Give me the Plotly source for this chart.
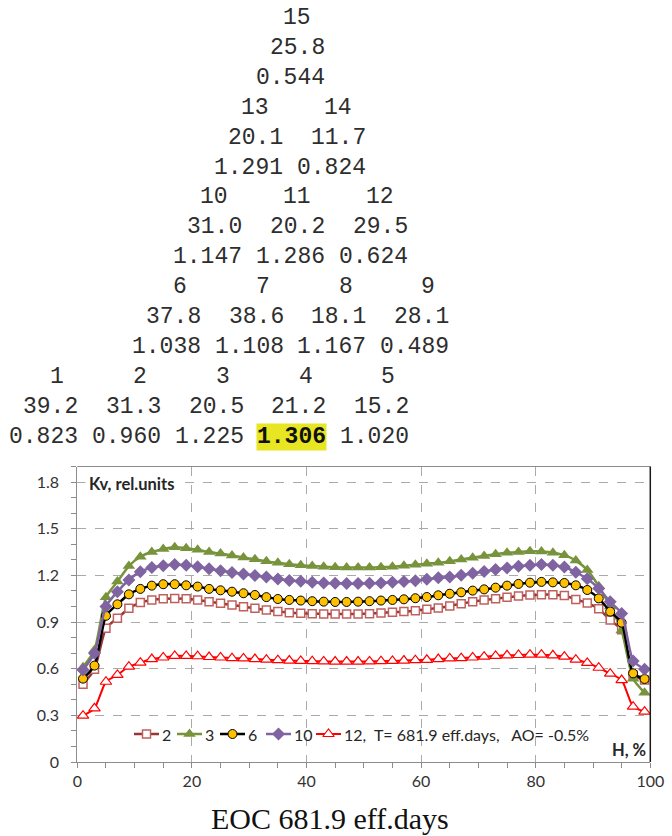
import plotly.graph_objects as go

# ---------------- data ----------------
h_pct = list(range(1, 100, 2))  # axial layer centres, %

kv_2 = [0.500, 0.596, 0.860, 0.924, 0.988, 1.025, 1.042, 1.050, 1.052, 1.050,
        1.042, 1.031, 1.020, 1.009, 0.999, 0.988, 0.977, 0.967, 0.960, 0.956,
        0.954, 0.952, 0.952, 0.952, 0.952, 0.954, 0.958, 0.963, 0.967, 0.973,
        0.982, 0.990, 1.003, 1.018, 1.031, 1.042, 1.050, 1.059, 1.067, 1.073,
        1.076, 1.076, 1.070, 1.045, 1.022, 0.985, 0.913, 0.850, 0.560, 0.527]
kv_3 = [0.610, 0.720, 1.060, 1.160, 1.260, 1.320, 1.350, 1.370, 1.380, 1.375,
        1.365, 1.350, 1.340, 1.327, 1.315, 1.303, 1.290, 1.281, 1.272, 1.265,
        1.260, 1.256, 1.252, 1.250, 1.250, 1.250, 1.253, 1.256, 1.262, 1.268,
        1.275, 1.281, 1.290, 1.302, 1.314, 1.325, 1.336, 1.345, 1.351, 1.355,
        1.353, 1.346, 1.330, 1.295, 1.235, 1.130, 1.000, 0.845, 0.535, 0.445]
kv_6 = [0.536, 0.620, 0.940, 1.014, 1.078, 1.113, 1.134, 1.143, 1.143, 1.136,
        1.128, 1.113, 1.104, 1.095, 1.085, 1.074, 1.060, 1.048, 1.042, 1.038,
        1.034, 1.031, 1.029, 1.029, 1.031, 1.034, 1.038, 1.042, 1.046, 1.053,
        1.061, 1.072, 1.082, 1.091, 1.102, 1.110, 1.121, 1.134, 1.145, 1.153,
        1.158, 1.155, 1.151, 1.136, 1.106, 1.052, 0.967, 0.896, 0.570, 0.534]
kv_10 = [0.592, 0.700, 1.000, 1.095, 1.170, 1.224, 1.250, 1.262, 1.270, 1.265,
         1.256, 1.243, 1.230, 1.219, 1.208, 1.199, 1.189, 1.176, 1.167, 1.162,
         1.156, 1.151, 1.149, 1.147, 1.147, 1.149, 1.151, 1.156, 1.160, 1.166,
         1.175, 1.184, 1.190, 1.200, 1.213, 1.225, 1.237, 1.248, 1.258, 1.265,
         1.270, 1.265, 1.254, 1.220, 1.178, 1.115, 1.030, 0.955, 0.650, 0.596]
kv_12 = [0.298, 0.345, 0.516, 0.560, 0.613, 0.639, 0.662, 0.672, 0.682, 0.682,
         0.680, 0.675, 0.672, 0.668, 0.666, 0.662, 0.658, 0.655, 0.652, 0.650,
         0.648, 0.647, 0.646, 0.646, 0.646, 0.647, 0.648, 0.650, 0.652, 0.655,
         0.657, 0.662, 0.666, 0.668, 0.672, 0.677, 0.682, 0.686, 0.688, 0.690,
         0.690, 0.686, 0.677, 0.658, 0.637, 0.606, 0.568, 0.527, 0.356, 0.324]

series_names = ["2", "3", "6", "10", "12,\u00a0\u00a0T= 681.9 eff.days,\u00a0\u00a0\u00a0AO= -0.5%"]
series_values = [kv_2, kv_3, kv_6, kv_10, kv_12]

assembly_no = [1, 2, 3, 4, 5, 6, 7, 8, 9, 10, 11, 12, 13, 14, 15]
assembly_burnup = [39.2, 31.3, 20.5, 21.2, 15.2, 37.8, 38.6, 18.1, 28.1,
                   31.0, 20.2, 29.5, 20.1, 11.7, 25.8]
assembly_kq = [0.823, 0.960, 1.225, 1.306, 1.020, 1.038, 1.108, 1.167, 0.489,
               1.147, 1.286, 0.624, 1.291, 0.824, 0.544]
row_sizes = [5, 4, 3, 2, 1]

x_ticks = [0, 20, 40, 60, 80, 100]
y_ticks = [0, 0.3, 0.6, 0.9, 1.2, 1.5, 1.8]
y_tick_text = ["0", "0.3", "0.6", "0.9", "1.2", "1.5", "1.8"]

# ---------------- layout constants ----------------
W, H = 672, 836
X0PX, X1PX = 77.3, 650.3       # x = 0 .. 100
Y0PX, Y1PX = 762.0, 466.5      # y = 0 .. 1.9
XMAX, YMAX = 100, 1.9

def px2x(px):
    return (px - X0PX) / (X1PX - X0PX) * XMAX

def py2y(py):
    return (Y0PX - py) / (Y0PX - Y1PX) * YMAX

def pfx(px):
    return px / W

def pfy(py):
    return 1 - py / H

styles = [
    dict(line=dict(color="#953735", width=2.5),
         marker=dict(symbol="square", size=8, color="white",
                     line=dict(color="#C0605D", width=1.5))),
    dict(line=dict(color="#77933C", width=2.5),
         marker=dict(symbol="triangle-up", size=11, color="#77933C",
                     line=dict(color="#77933C", width=0))),
    dict(line=dict(color="#000000", width=2.5),
         marker=dict(symbol="circle", size=9, color="#FFC000",
                     line=dict(color="#000000", width=1))),
    dict(line=dict(color="#8064A2", width=2.5),
         marker=dict(symbol="diamond", size=10, color="#8064A2",
                     line=dict(color="#8064A2", width=0))),
    dict(line=dict(color="#FF0000", width=2),
         marker=dict(symbol="triangle-up", size=10, color="white",
                     line=dict(color="#FF0000", width=1.2))),
]

fig = go.Figure()

for name, vals, st in zip(series_names, series_values, styles):
    fig.add_trace(go.Scatter(
        x=h_pct, y=vals, name=name, mode="lines+markers",
        line=dict(shape="spline", smoothing=0.6, **st["line"]),
        marker=st["marker"], showlegend=False, cliponaxis=False))

# ---- manual legend (samples drawn inside the plot) ----
LEG_Y = 734
LEG_X = [134, 177, 220, 266, 316]
LEG_LEN = 25
for name, st, lx in zip(series_names, styles, LEG_X):
    fig.add_trace(go.Scatter(
        x=[px2x(lx), px2x(lx + LEG_LEN)], y=[py2y(LEG_Y)] * 2, mode="lines",
        line=st["line"], showlegend=False, hoverinfo="skip"))
    fig.add_trace(go.Scatter(
        x=[px2x(lx + LEG_LEN / 2)], y=[py2y(LEG_Y)], mode="markers",
        marker=st["marker"], showlegend=False, hoverinfo="skip"))
    fig.add_annotation(x=pfx(lx + LEG_LEN + 1), y=pfy(LEG_Y), xref="paper", yref="paper",
                       text=name, showarrow=False, xanchor="left", yanchor="middle",
                       font=dict(family="Lato", size=16, color="#262626"))

# white box behind the legend (hides the gridlines there)
fig.add_shape(type="rect", xref="paper", yref="paper",
              x0=pfx(123), x1=pfx(610), y0=pfy(761), y1=pfy(713),
              fillcolor="white", line=dict(width=0), layer="between")

# frame: top gray, right dark
fig.add_shape(type="line", xref="paper", yref="paper",
              x0=pfx(X0PX), x1=pfx(X1PX), y0=pfy(Y1PX), y1=pfy(Y1PX),
              line=dict(color="#8C8C8C", width=1))
fig.add_shape(type="line", xref="paper", yref="paper",
              x0=pfx(X1PX), x1=pfx(X1PX), y0=pfy(Y0PX), y1=pfy(Y1PX),
              line=dict(color="#1A1A1A", width=1.5))

# axis captions inside the plot
fig.add_annotation(x=pfx(85), y=pfy(484), xref="paper", yref="paper",
                   text="<b>Kv, rel.units</b>", showarrow=False,
                   xanchor="left", yanchor="middle", bgcolor="white", borderpad=3,
                   font=dict(family="Lato", size=16.5, color="#262626"))
fig.add_annotation(x=pfx(648), y=pfy(750), xref="paper", yref="paper",
                   text="<b>H, %</b>", showarrow=False,
                   xanchor="right", yanchor="middle",
                   font=dict(family="Lato", size=16.5, color="#262626"))

# ---- assembly map text (triangle) ----
CW = 13.8                                   # monospace character advance
ROW_START = [10, 132.7, 174, 215, 256.7]    # left edge of the value fields per row
ROW_TOP = [376.8, 287.1, 197.4, 107.7, 18.0]
LINE = 29.9
mono = dict(family="Liberation Mono", size=23, color="#2E2E2E")
kq_max = max(assembly_kq)
idx = 0
for r, n in enumerate(row_sizes):
    for c in range(n):
        left = ROW_START[r] + c * 6 * CW
        num = assembly_no[idx]
        bu = assembly_burnup[idx]
        kq = assembly_kq[idx]
        fig.add_annotation(x=pfx(left + 4 * CW), y=pfy(ROW_TOP[r]), xref="paper", yref="paper",
                           text=str(num), showarrow=False, xanchor="right", yanchor="middle",
                           borderpad=0, font=mono)
        fig.add_annotation(x=pfx(left + 5 * CW), y=pfy(ROW_TOP[r] + LINE), xref="paper", yref="paper",
                           text=f"{bu:.1f}", showarrow=False, xanchor="right", yanchor="middle",
                           borderpad=0, font=mono)
        if kq == kq_max:
            fig.add_annotation(x=pfx(left + 5 * CW), y=pfy(ROW_TOP[r] + 2 * LINE), xref="paper", yref="paper",
                               text=f"<b>{kq:.3f}</b>", showarrow=False, xanchor="right", yanchor="middle",
                               borderpad=0, bgcolor="#E8E622",
                               font=dict(family="Liberation Mono", size=23, color="#111111"))
        else:
            fig.add_annotation(x=pfx(left + 5 * CW), y=pfy(ROW_TOP[r] + 2 * LINE), xref="paper", yref="paper",
                               text=f"{kq:.3f}", showarrow=False, xanchor="right", yanchor="middle",
                               borderpad=0, font=mono)
        idx += 1

# bottom caption
fig.add_annotation(x=pfx(330), y=pfy(818), xref="paper", yref="paper",
                   text="EOC 681.9 eff.days", showarrow=False, xanchor="center", yanchor="middle",
                   font=dict(family="Liberation Serif", size=30, color="#111111"))

tickfont = dict(family="Lato", size=16, color="#333333")
fig.update_layout(
    width=W, height=H, margin=dict(l=0, r=0, t=0, b=0),
    paper_bgcolor="white", plot_bgcolor="white", showlegend=False,
    xaxis=dict(domain=[pfx(X0PX), pfx(X1PX)], range=[0, XMAX], tickvals=x_ticks,
               showgrid=True, gridcolor="#AAAAAA", griddash="dash", gridwidth=1,
               showline=True, linecolor="#8C8C8C", linewidth=1,
               ticks="outside", ticklen=5, tickcolor="#8C8C8C",
               minor=dict(dtick=5, ticks="outside", ticklen=5, tickcolor="#8C8C8C", showgrid=False),
               tickfont=tickfont, zeroline=False, automargin=False, fixedrange=True),
    yaxis=dict(domain=[pfy(Y0PX), pfy(Y1PX)], range=[0, YMAX], tickvals=y_ticks,
               ticktext=y_tick_text,
               showgrid=True, gridcolor="#AAAAAA", griddash="dash", gridwidth=1,
               showline=True, linecolor="#8C8C8C", linewidth=1,
               ticks="outside", ticklen=5, tickcolor="#8C8C8C",
               minor=dict(dtick=0.1, ticks="outside", ticklen=5, tickcolor="#8C8C8C", showgrid=False),
               tickfont=tickfont, zeroline=False, automargin=False, fixedrange=True,
               ticklabelstandoff=9),
)

fig.write_html("out.html")
